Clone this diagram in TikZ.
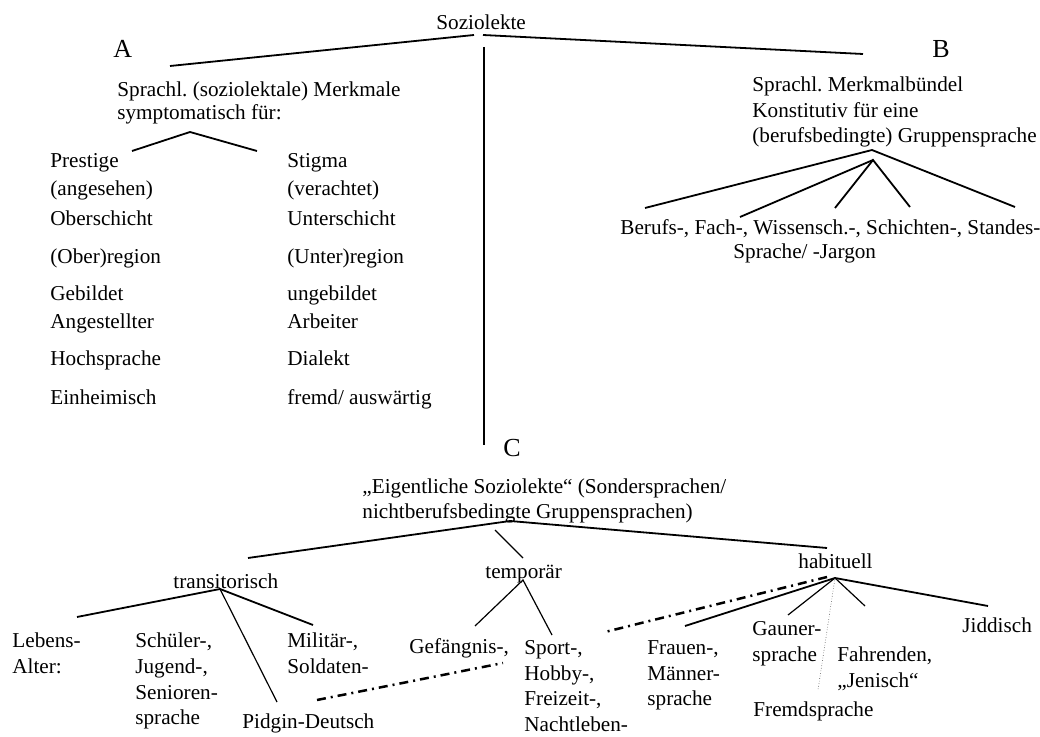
\documentclass[tikz,border=0pt]{standalone}
\usepackage{fontspec}
\setmainfont{Liberation Serif}
\usepackage{tikz}
\usetikzlibrary{positioning}
\frenchspacing
\tikzset{
    txt/.style={inner sep=0pt, anchor=base west, font=\fontsize{10.6}{12}\selectfont},
    sect/.style={txt, font=\fontsize{13}{15}\selectfont},
    branch/.style={line width=0.9pt},
    twig/.style={line width=0.6pt},
    link/.style={line width=1.25pt, dash pattern=on 4.5pt off 2.5pt on 1pt off 2.5pt},
    hint/.style={line width=0.3pt, densely dotted, black!70}
}

\begin{document}
\begin{tikzpicture}[x=0.5pt, y=-0.5pt]
    \useasboundingbox (0,0) rectangle (1040,737);

    \node[txt] (soz) at (436,30) {Soziolekte};
    \node[sect] (secA) at (113,58) {A};
    \node[sect] (secB) at (932,58) {B};
    \node[sect] (secC) at (503,457) {C};

    \node[txt] (merkA1) at (117,97) {Sprachl. (soziolektale) Merkmale};
    \node[txt] (merkA2) at (117,120) {symptomatisch für:};

    \node[txt] (pre1) at (50,168) {Prestige};
    \node[txt] (pre2) at (50,196) {(angesehen)};
    \node[txt] (pre3) at (50,226) {Oberschicht};
    \node[txt] (pre4) at (50,264) {(Ober)region};
    \node[txt] (pre5) at (50,301) {Gebildet};
    \node[txt] (pre6) at (50,329) {Angestellter};
    \node[txt] (pre7) at (50,366) {Hochsprache};
    \node[txt] (pre8) at (50,405) {Einheimisch};

    \node[txt] (sti1) at (287,168) {Stigma};
    \node[txt] (sti2) at (287,196) {(verachtet)};
    \node[txt] (sti3) at (287,226) {Unterschicht};
    \node[txt] (sti4) at (287,264) {(Unter)region};
    \node[txt] (sti5) at (287,301) {ungebildet};
    \node[txt] (sti6) at (287,329) {Arbeiter};
    \node[txt] (sti7) at (287,366) {Dialekt};
    \node[txt] (sti8) at (287,405) {fremd/ auswärtig};

    \node[txt] (merkB1) at (752,92) {Sprachl. Merkmalbündel};
    \node[txt] (merkB2) at (752,118) {Konstitutiv für eine};
    \node[txt] (merkB3) at (752,143) {(berufsbedingte) Gruppensprache};
    \node[txt] (beruf1) at (620,235) {Berufs-, Fach-, Wissensch.-, Schichten-, Standes-};
    \node[txt] (beruf2) at (733,259) {Sprache/ -Jargon};

    \node[txt] (eig1) at (362,494) {„Eigentliche Soziolekte“ (Sondersprachen/};
    \node[txt] (eig2) at (362,519) {nichtberufsbedingte Gruppensprachen)};

    \node[txt] (trans) at (173,589) {transitorisch};
    \node[txt] (temp) at (485,579) {temporär};
    \node[txt] (habit) at (798,569) {habituell};

    \node[txt] (leb1) at (12,648) {Lebens-};
    \node[txt] (leb2) at (12,674) {Alter:};
    \node[txt] (sch1) at (135,648) {Schüler-,};
    \node[txt] (sch2) at (135,674) {Jugend-,};
    \node[txt] (sch3) at (135,700) {Senioren-};
    \node[txt] (sch4) at (135,725) {sprache};
    \node[txt] (mil1) at (287,648) {Militär-,};
    \node[txt] (mil2) at (287,674) {Soldaten-};
    \node[txt] (pidgin) at (242,728) {Pidgin-Deutsch};

    \node[txt] (gef) at (409,654) {Gefängnis-,};
    \node[txt] (spo1) at (524,655) {Sport-,};
    \node[txt] (spo2) at (524,681) {Hobby-,};
    \node[txt] (spo3) at (524,706) {Freizeit-,};
    \node[txt] (spo4) at (524,732) {Nachtleben-};

    \node[txt] (fra1) at (647,655) {Frauen-,};
    \node[txt] (fra2) at (647,681) {Männer-};
    \node[txt] (fra3) at (647,706) {sprache};
    \node[txt] (gau1) at (752,636) {Gauner-};
    \node[txt] (gau2) at (752,662) {sprache};
    \node[txt] (fah1) at (837,662) {Fahrenden,};
    \node[txt] (fah2) at (837,688) {„Jenisch“};
    \node[txt] (frem) at (753,717) {Fremdsprache};
    \node[txt] (jid) at (962,633) {Jiddisch};

    \coordinate (sozL) at (474,35);
    \coordinate (sozR) at (483,35);
    \coordinate (sozD) at (484,47);
    \coordinate (aTop) at (170,66);
    \coordinate (bTop) at (863,54);
    \coordinate (cTop) at (484,445);
    \coordinate (aFork) at (190,132);
    \coordinate (aForkL) at (132,151);
    \coordinate (aForkR) at (257,151);
    \coordinate (bFork) at (872,150);
    \coordinate (bFork2) at (873,160);
    \coordinate (bEnd1) at (645,208);
    \coordinate (bEnd2) at (740,217);
    \coordinate (bEnd3) at (835,208);
    \coordinate (bEnd4) at (910,207);
    \coordinate (bEnd5) at (1015,207);

    \coordinate (cFork) at (510,521);
    \coordinate (cFork2) at (495,530);
    \coordinate (transTop) at (248,558);
    \coordinate (tempTop) at (523,558);
    \coordinate (habitTop) at (827,548);
    \coordinate (transFork) at (220,589);
    \coordinate (tempFork) at (523,580);
    \coordinate (habitFork) at (835,578);
    \coordinate (lebTop) at (77,617);
    \coordinate (milTop) at (313,625);
    \coordinate (pidTop) at (277,702);
    \coordinate (gefTop) at (475,626);
    \coordinate (spoTop) at (552,635);
    \coordinate (fraTop) at (685,626);
    \coordinate (gauTop) at (788,615);
    \coordinate (fahTop) at (865,606);
    \coordinate (jidTop) at (988,606);
    \coordinate (fremTop) at (818,690);
    \coordinate (habitLink) at (827,577);
    \coordinate (fraLink) at (605,632);
    \coordinate (pidLink) at (317,700);
    \coordinate (gefLink) at (503,663);

    \draw[branch] (aTop) -- (sozL);
    \draw[branch] (sozR) -- (bTop);
    \draw[branch] (sozD) -- (cTop);
    \draw[branch] (aForkL) -- (aFork) -- (aForkR);
    \draw[branch] (bEnd1) -- (bFork) -- (bEnd5);
    \draw[branch] (bEnd2) -- (bFork2);
    \draw[branch] (bEnd3) -- (bFork2) -- (bEnd4);

    \draw[branch] (transTop) -- (cFork) -- (habitTop);
    \draw[twig] (cFork2) -- (tempTop);
    \draw[branch] (lebTop) -- (transFork) -- (milTop);
    \draw[twig] (transFork) -- (pidTop);
    \draw[twig] (gefTop) -- (tempFork) -- (spoTop);
    \draw[branch] (fraTop) -- (habitFork) -- (jidTop);
    \draw[twig] (gauTop) -- (habitFork) -- (fahTop);
    \draw[hint] (habitFork) -- (fremTop);
    \draw[link] (habitLink) -- (fraLink);
    \draw[link] (pidLink) -- (gefLink);
\end{tikzpicture}
\end{document}
